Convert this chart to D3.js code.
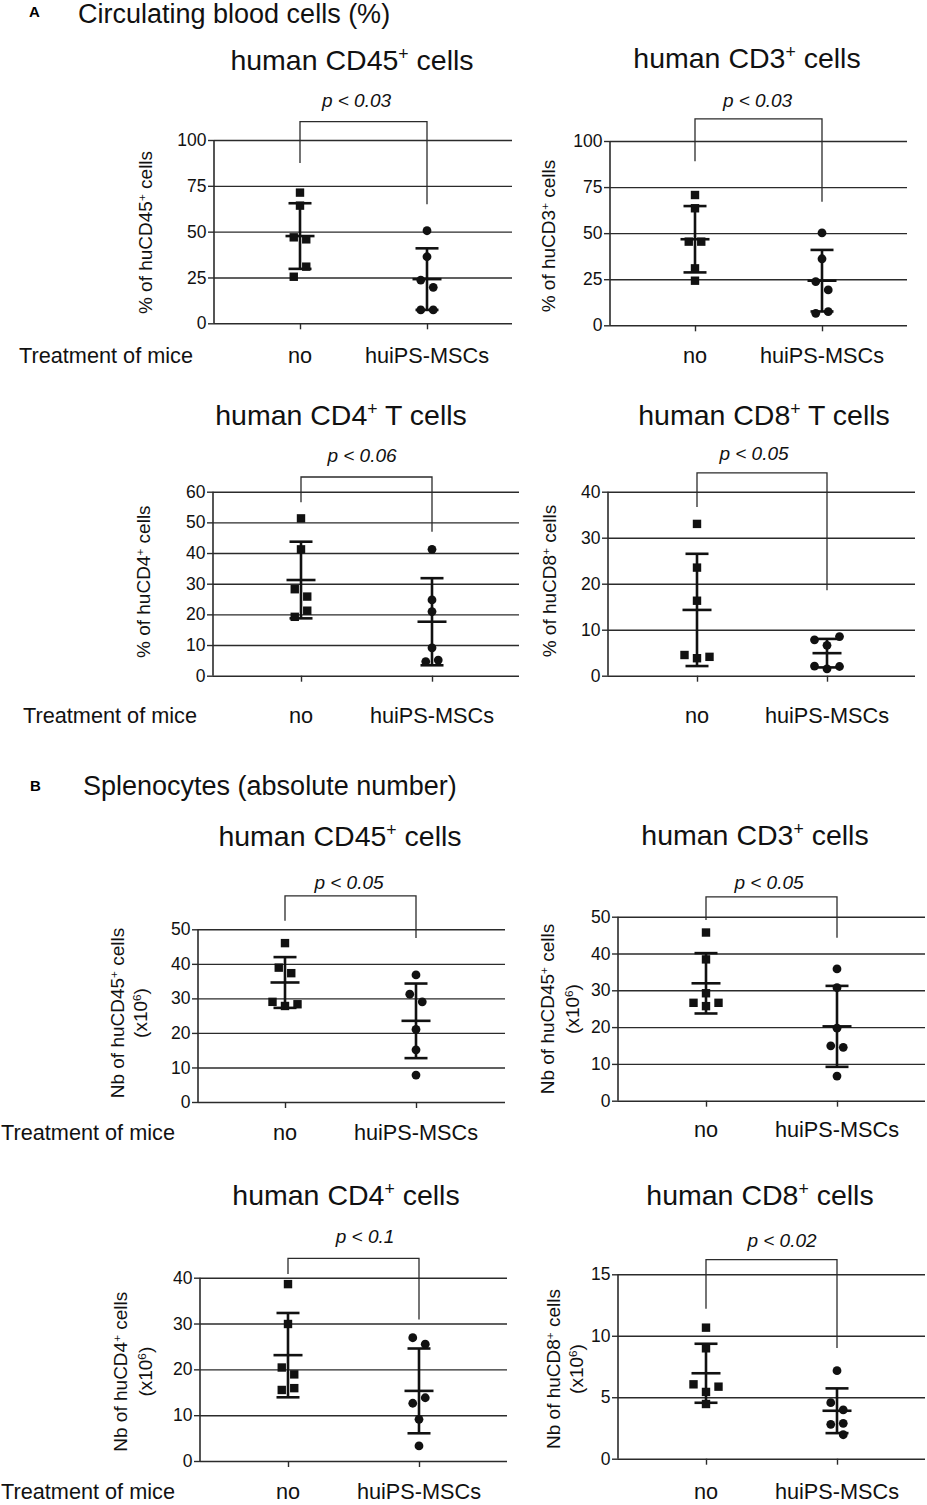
<!DOCTYPE html>
<html lang="en">
<head>
<meta charset="UTF-8">
<title>Human cells in mice treated with huiPS-MSCs</title>
<script src="https://d3js.org/d3.v7.min.js"></script>
<style>
  body { margin: 0; background: #fff; }
  svg { display: block; font-family: "Liberation Sans", Arial, sans-serif; }
  .grid path, .yaxis path, .xaxis path { display: none; }
  .grid line { stroke: #2b2b2b; stroke-width: 1.4; }
  .yaxis line, .xaxis line { stroke: #2b2b2b; stroke-width: 1.4; }
  .yaxis text { font-size: 17.5px; fill: #111; }
  .bracket { fill: none; stroke: #2b2b2b; stroke-width: 1.3; }
  .err line { stroke: #111; stroke-width: 2.6; }
</style>
</head>
<body>
<svg id="fig" width="927" height="1505"></svg>
<script>
const groups = ["no", "huiPS-MSCs"];

// A - circulating blood cells (%), 6 mice per group
const bloodCD45No = [71.3, 64.2, 45.8, 46.9, 30.9, 25.4];
const bloodCD45Hu = [50.5, 36.3, 19.6, 23.6, 7.3, 7.3];
const bloodCD45Mean = [47.6, 24.1];
const bloodCD45Sd = [17.9, 16.8];

const bloodCD3No = [70.7, 63.5, 45.4, 45.4, 30.9, 24.2];
const bloodCD3Hu = [50.2, 36.1, 19.2, 23.7, 7.4, 6.5];
const bloodCD3Mean = [46.7, 24.2];
const bloodCD3Sd = [18.0, 16.7];

const bloodCD4No = [51.3, 41.2, 25.8, 28.2, 21.2, 19.2];
const bloodCD4Hu = [41.2, 24.7, 20.9, 9.1, 5.1, 4.6];
const bloodCD4Mean = [31.2, 17.6];
const bloodCD4Sd = [12.5, 14.2];

const bloodCD8No = [33.0, 23.5, 16.3, 3.8, 4.5, 4.1];
const bloodCD8Hu = [6.6, 7.8, 8.5, 1.5, 2.1, 2.0];
const bloodCD8Mean = [14.3, 4.9];
const bloodCD8Sd = [12.2, 3.1];

// B - splenocytes (absolute number, x10^6)
const spleenCD45No = [46.0, 37.3, 38.9, 27.8, 29.0, 28.3];
const spleenCD45Hu = [36.8, 29.0, 31.2, 21.0, 15.1, 7.8];
const spleenCD45Mean = [34.6, 23.5];
const spleenCD45Sd = [7.35, 10.8];

const spleenCD3No = [45.7, 38.4, 29.2, 26.6, 25.7, 26.6];
const spleenCD3Hu = [35.8, 30.7, 19.7, 14.5, 14.9, 6.7];
const spleenCD3Mean = [31.9, 20.2];
const spleenCD3Sd = [8.2, 11.0];

const spleenCD4No = [38.6, 29.9, 18.9, 20.4, 15.9, 15.5];
const spleenCD4Hu = [25.5, 26.9, 13.8, 12.6, 9.1, 3.3];
const spleenCD4Mean = [23.1, 15.3];
const spleenCD4Sd = [9.2, 9.25];

const spleenCD8No = [10.66, 8.98, 5.43, 6.05, 5.86, 4.45];
const spleenCD8Hu = [7.16, 3.97, 4.56, 1.95, 2.88, 2.8];
const spleenCD8Mean = [6.95, 3.9];
const spleenCD8Sd = [2.4, 1.82];

const pBlood = ["p < 0.03", "p < 0.03", "p < 0.06", "p < 0.05"];
const pSpleen = ["p < 0.05", "p < 0.05", "p < 0.1", "p < 0.02"];

const ticksPercent = [0, 25, 50, 75, 100];
const ticksBloodCD4 = [0, 10, 20, 30, 40, 50, 60];
const ticksBloodCD8 = [0, 10, 20, 30, 40];
const ticksSpleen50 = [0, 10, 20, 30, 40, 50];
const ticksSpleen40 = [0, 10, 20, 30, 40];
const ticksSpleen15 = [0, 5, 10, 15];

// layout of the 8 panels (pixels); bracket in data units: [top, left leg end, right leg end]
// treat: [x, y, anchor] of the "Treatment of mice" row label
const panels = [
  { title: "human CD45^+ cells", ylab: ["% of huCD45^+ cells"], p: pBlood[0],
    no: bloodCD45No, hu: bloodCD45Hu, mean: bloodCD45Mean, sd: bloodCD45Sd, ticks: ticksPercent,
    x0: 214, x1: 512, yTop: 140, yBot: 323.3, cx: [300, 427], bracket: [110, 87.5, 65],
    titleAt: [352, 70], pAt: [356.5, 107], ylabX: [145], ylabY: 232.5, catY: 363, treat: [193, 363, "end"] },
  { title: "human CD3^+ cells", ylab: ["% of huCD3^+ cells"], p: pBlood[1],
    no: bloodCD3No, hu: bloodCD3Hu, mean: bloodCD3Mean, sd: bloodCD3Sd, ticks: ticksPercent,
    x0: 610, x1: 907, yTop: 141, yBot: 325.3, cx: [695, 822], bracket: [112, 89, 67],
    titleAt: [747, 68], pAt: [757.5, 107], ylabX: [548], ylabY: 236, catY: 363 },
  { title: "human CD4^+ T cells", ylab: ["% of huCD4^+ cells"], p: pBlood[2],
    no: bloodCD4No, hu: bloodCD4Hu, mean: bloodCD4Mean, sd: bloodCD4Sd, ticks: ticksBloodCD4,
    x0: 213, x1: 519, yTop: 491.7, yBot: 675.7, cx: [301, 432], bracket: [64.8, 56.6, 46.9],
    titleAt: [341, 425], pAt: [362, 462], ylabX: [143], ylabY: 581.7, catY: 723, treat: [197, 723, "end"] },
  { title: "human CD8^+ T cells", ylab: ["% of huCD8^+ cells"], p: pBlood[3],
    no: bloodCD8No, hu: bloodCD8Hu, mean: bloodCD8Mean, sd: bloodCD8Sd, ticks: ticksBloodCD8,
    x0: 608, x1: 915, yTop: 491.7, yBot: 675.7, cx: [697, 827], bracket: [44.1, 36.7, 18.6],
    titleAt: [764, 425], pAt: [754, 460], ylabX: [549], ylabY: 581, catY: 723 },
  { title: "human CD45^+ cells", ylab: ["Nb of huCD45^+ cells", "(x10^6)"], p: pSpleen[0],
    no: spleenCD45No, hu: spleenCD45Hu, mean: spleenCD45Mean, sd: spleenCD45Sd, ticks: ticksSpleen50,
    x0: 198, x1: 505, yTop: 929.3, yBot: 1102, cx: [285, 416], bracket: [59.7, 52.5, 47.5],
    titleAt: [340, 846], pAt: [349, 889], ylabX: [117, 140], ylabY: 1013, catY: 1140, treat: [1, 1140, "start"] },
  { title: "human CD3^+ cells", ylab: ["Nb of huCD45^+ cells", "(x10^6)"], p: pSpleen[1],
    no: spleenCD3No, hu: spleenCD3Hu, mean: spleenCD3Mean, sd: spleenCD3Sd, ticks: ticksSpleen50,
    x0: 618, x1: 925, yTop: 916.7, yBot: 1100.7, cx: [706, 837], bracket: [55.4, 49.1, 44.3],
    titleAt: [755, 845], pAt: [769, 889], ylabX: [547, 572], ylabY: 1009, catY: 1137 },
  { title: "human CD4^+ cells", ylab: ["Nb of huCD4^+ cells", "(x10^6)"], p: pSpleen[2],
    no: spleenCD4No, hu: spleenCD4Hu, mean: spleenCD4Mean, sd: spleenCD4Sd, ticks: ticksSpleen40,
    x0: 200, x1: 507, yTop: 1277.7, yBot: 1461, cx: [288, 419], bracket: [44.2, 40.8, 30.9],
    titleAt: [346, 1205], pAt: [365, 1243], ylabX: [120, 145], ylabY: 1371.7, catY: 1499, treat: [1, 1499, "start"] },
  { title: "human CD8^+ cells", ylab: ["Nb of huCD8^+ cells", "(x10^6)"], p: pSpleen[3],
    no: spleenCD8No, hu: spleenCD8Hu, mean: spleenCD8Mean, sd: spleenCD8Sd, ticks: ticksSpleen15,
    x0: 618, x1: 925, yTop: 1274.3, yBot: 1458.7, cx: [706, 837], bracket: [16.2, 12.2, 9.0],
    titleAt: [760, 1205], pAt: [782, 1247], ylabX: [553, 576], ylabY: 1369, catY: 1499 }
];

const svg = d3.select("#fig");

// "^x" marks a single superscript character
function richText(sel, str) {
  str.split(/(\^.)/).forEach(part => {
    if (!part) return;
    if (part[0] === "^") {
      sel.append("tspan").attr("baseline-shift", "super").attr("font-size", "62%").text(part.slice(1));
    } else {
      sel.append("tspan").text(part);
    }
  });
}

// spread overlapping points sideways, the way the scatter plots do
function dodge(values, y, D, step) {
  const pts = values.map(v => ({ v, py: y(v), dx: 0 }));
  const cand = [0, -step, step, -2 * step, 2 * step];
  pts.forEach((p, i) => {
    const prev = pts.slice(0, i);
    p.dx = cand.find(c => !prev.some(q => Math.abs(q.py - p.py) < D && Math.abs(q.dx - c) < D));
  });
  const parent = pts.map((_, i) => i);
  const find = i => parent[i] === i ? i : (parent[i] = find(parent[i]));
  pts.forEach((p, i) => pts.forEach((q, j) => {
    if (j > i && Math.abs(p.py - q.py) < D) parent[find(j)] = find(i);
  }));
  d3.group(pts.map((p, i) => [find(i), p]), d => d[0]).forEach(list => {
    const ext = d3.extent(list, d => d[1].dx);
    const shift = (ext[0] + ext[1]) / 2;
    list.forEach(d => { d[1].dx -= shift; });
  });
  return pts;
}

// section headers
svg.append("text").attr("x", 29).attr("y", 17).attr("font-size", 15).attr("font-weight", "bold").text("A");
svg.append("text").attr("x", 78).attr("y", 23).attr("font-size", 27).attr("fill", "#111").text("Circulating blood cells (%)");
svg.append("text").attr("x", 30).attr("y", 791).attr("font-size", 15).attr("font-weight", "bold").text("B");
svg.append("text").attr("x", 83).attr("y", 795).attr("font-size", 27).attr("fill", "#111").text("Splenocytes (absolute number)");

panels.forEach(P => {
  const g = svg.append("g");
  const y = d3.scaleLinear().domain([0, d3.max(P.ticks)]).range([P.yBot, P.yTop]);
  const x = d3.scalePoint().domain(groups).range(P.cx);

  g.append("g").attr("class", "grid").attr("transform", `translate(${P.x0},0)`)
    .call(d3.axisLeft(y).tickValues(P.ticks).tickSize(-(P.x1 - P.x0)).tickFormat(""));

  g.append("g").attr("class", "yaxis").attr("transform", `translate(${P.x0},0)`)
    .call(d3.axisLeft(y).tickValues(P.ticks).tickSize(6).tickPadding(1.5))
    .attr("font-size", null).attr("font-family", null);

  g.append("line")
    .attr("x1", P.x0).attr("x2", P.x0)
    .attr("y1", y.range()[1]).attr("y2", y.range()[0])
    .attr("stroke", "#2b2b2b").attr("stroke-width", 1.6);

  g.append("g").attr("class", "xaxis").attr("transform", `translate(0,${P.yBot})`)
    .call(d3.axisBottom(x).tickSize(6).tickFormat(""));

  g.selectAll(".cat").data(groups).join("text")
    .attr("class", "cat")
    .attr("x", d => x(d)).attr("y", P.catY)
    .attr("text-anchor", "middle").attr("font-size", 21.7).attr("fill", "#111")
    .text(d => d);

  if (P.treat) {
    g.append("text").attr("x", P.treat[0]).attr("y", P.treat[1])
      .attr("text-anchor", P.treat[2]).attr("font-size", 21.7).attr("fill", "#111")
      .text("Treatment of mice");
  }

  // mean ± SD
  const err = g.append("g").attr("class", "err");
  groups.forEach((grp, i) => {
    const cx = x(grp), m = P.mean[i], s = P.sd[i];
    err.append("line").attr("x1", cx).attr("x2", cx).attr("y1", y(m - s)).attr("y2", y(m + s));
    [m - s, m + s].forEach(v => {
      err.append("line").attr("x1", cx - 11.5).attr("x2", cx + 11.5).attr("y1", y(v)).attr("y2", y(v));
    });
    err.append("line").attr("x1", cx - 14.5).attr("x2", cx + 14.5).attr("y1", y(m)).attr("y2", y(m));
  });

  // individual mice
  const noPts = dodge(P.no, y, 11, 12.5);
  const huPts = dodge(P.hu, y, 11, 12.5);
  g.selectAll(".sq").data(noPts).join("rect")
    .attr("class", "sq")
    .attr("x", d => x(groups[0]) + d.dx - 4.2).attr("y", d => d.py - 4.2)
    .attr("width", 8.4).attr("height", 8.4).attr("fill", "#111");
  g.selectAll(".dot").data(huPts).join("circle")
    .attr("class", "dot")
    .attr("cx", d => x(groups[1]) + d.dx).attr("cy", d => d.py)
    .attr("r", 4.4).attr("fill", "#111");

  // significance bracket
  const b = P.bracket;
  g.append("path").attr("class", "bracket")
    .attr("d", d3.line()([
      [x(groups[0]), y(b[1])], [x(groups[0]), y(b[0])],
      [x(groups[1]), y(b[0])], [x(groups[1]), y(b[2])]
    ]));
  g.append("text").attr("x", P.pAt[0]).attr("y", P.pAt[1])
    .attr("text-anchor", "middle").attr("font-size", 19).attr("font-style", "italic").attr("fill", "#111")
    .text(P.p);

  const t = g.append("text").attr("x", P.titleAt[0]).attr("y", P.titleAt[1])
    .attr("text-anchor", "middle").attr("font-size", 28.5).attr("fill", "#111");
  richText(t, P.title);

  P.ylab.forEach((line, i) => {
    const lt = g.append("text")
      .attr("transform", `translate(${P.ylabX[i]},${P.ylabY}) rotate(-90)`)
      .attr("dy", "0.35em").attr("text-anchor", "middle")
      .attr("font-size", 19).attr("fill", "#111");
    richText(lt, line);
  });
});
</script>
</body>
</html>
